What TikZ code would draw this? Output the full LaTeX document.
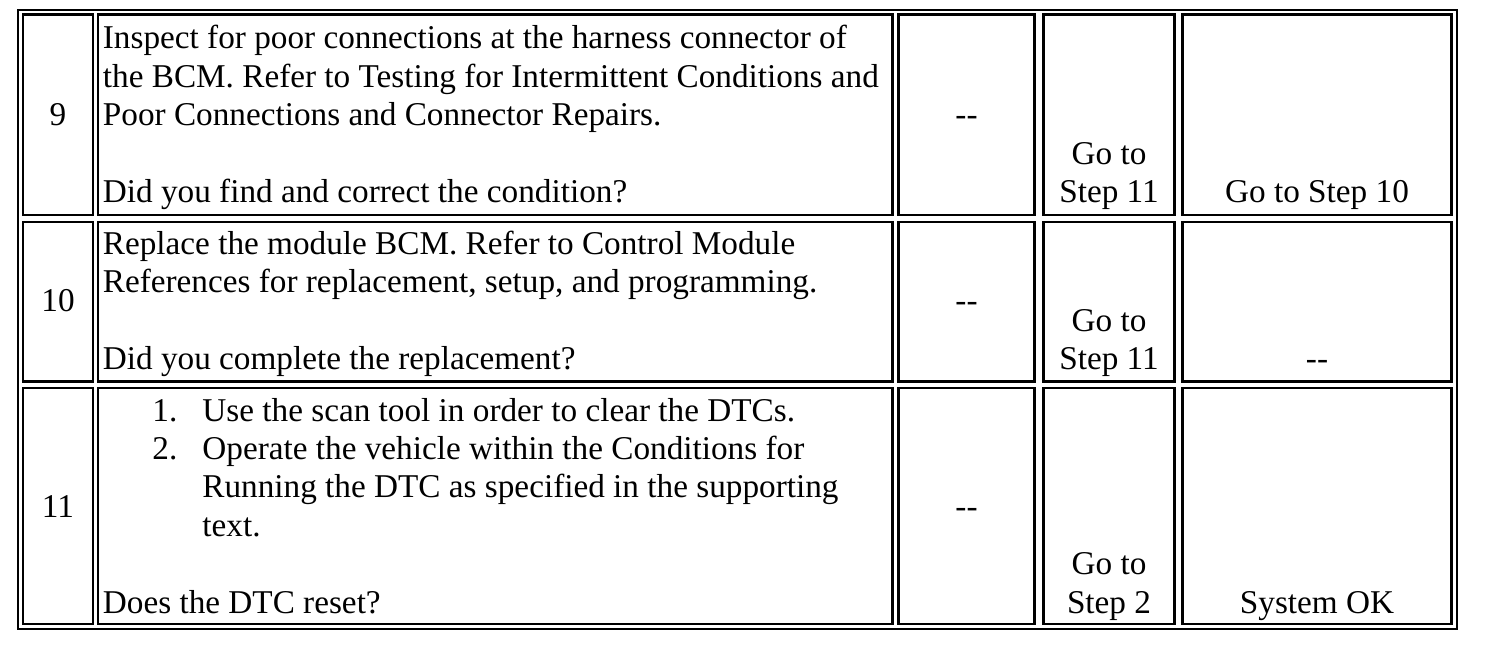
\documentclass[tikz,border=0pt]{standalone}
\usepackage{fontspec}
\setmainfont{Liberation Serif}
\begin{document}
\begin{tikzpicture}[x=0.5pt,y=-0.5pt,
    every node/.style={inner sep=0pt,font=\fontsize{16.62}{19.2}\selectfont},
    cell/.style={line width=1.25pt}]
  \useasboundingbox (0,0) rectangle (1504,652);
  \draw [line width=1pt] (18,10) rectangle (1457,629);
  \foreach \ya/\yb in {14.5/215, 222/381.5, 388/624}
    \foreach \xa/\xb in {23/93, 98/892.5, 898.5/1034.5, 1043.5/1174.5, 1182.5/1451.5}
      \draw [cell] (\xa,\ya) rectangle (\xb,\yb);
  % step 9
  \node (num9) [anchor=base] at (58,126) {9};
  \foreach \t [count=\i] in {Inspect for poor connections at the harness connector of,
      the BCM. Refer to Testing for Intermittent Conditions and,
      Poor Connections and Connector Repairs.,{},
      Did you find and correct the condition?}
    \node (txt9-\i) [anchor=base west] at (102.5,{49+38.4*(\i-1)}) {\t};
  \node (val9) [anchor=base] at (966.5,126) {-{}-};
  \node (yes9a) [anchor=base] at (1109,164.2) {Go to};
  \node (yes9b) [anchor=base] at (1109,202.6) {Step 11};
  \node (no9) [anchor=base] at (1317,202.6) {Go to Step 10};
  % step 10
  \node (num10) [anchor=base] at (58,312) {10};
  \foreach \t [count=\i] in {Replace the module BCM. Refer to Control Module,
      {References for replacement, setup, and programming.},{},
      Did you complete the replacement?}
    \node (txt10-\i) [anchor=base west] at (102.5,{254.5+38.4*(\i-1)}) {\t};
  \node (val10) [anchor=base] at (966.5,312) {-{}-};
  \node (yes10a) [anchor=base] at (1109,331.3) {Go to};
  \node (yes10b) [anchor=base] at (1109,369.7) {Step 11};
  \node (no10) [anchor=base] at (1317,369.7) {-{}-};
  % step 11
  \node (num11) [anchor=base] at (58,517) {11};
  \node (item1) [anchor=base west] at (152,421) {1.};
  \node (item2) [anchor=base west] at (152,459.4) {2.};
  \foreach \t [count=\i] in {Use the scan tool in order to clear the DTCs.,
      Operate the vehicle within the Conditions for,
      Running the DTC as specified in the supporting,text.}
    \node (txt11-\i) [anchor=base west] at (202,{421+38.4*(\i-1)}) {\t};
  \node (txt11-q) [anchor=base west] at (102.5,613) {Does the DTC reset?};
  \node (val11) [anchor=base] at (966.5,517) {-{}-};
  \node (yes11a) [anchor=base] at (1109,574.6) {Go to};
  \node (yes11b) [anchor=base] at (1109,613) {Step 2};
  \node (no11) [anchor=base] at (1317,613) {System OK};
\end{tikzpicture}
\end{document}
